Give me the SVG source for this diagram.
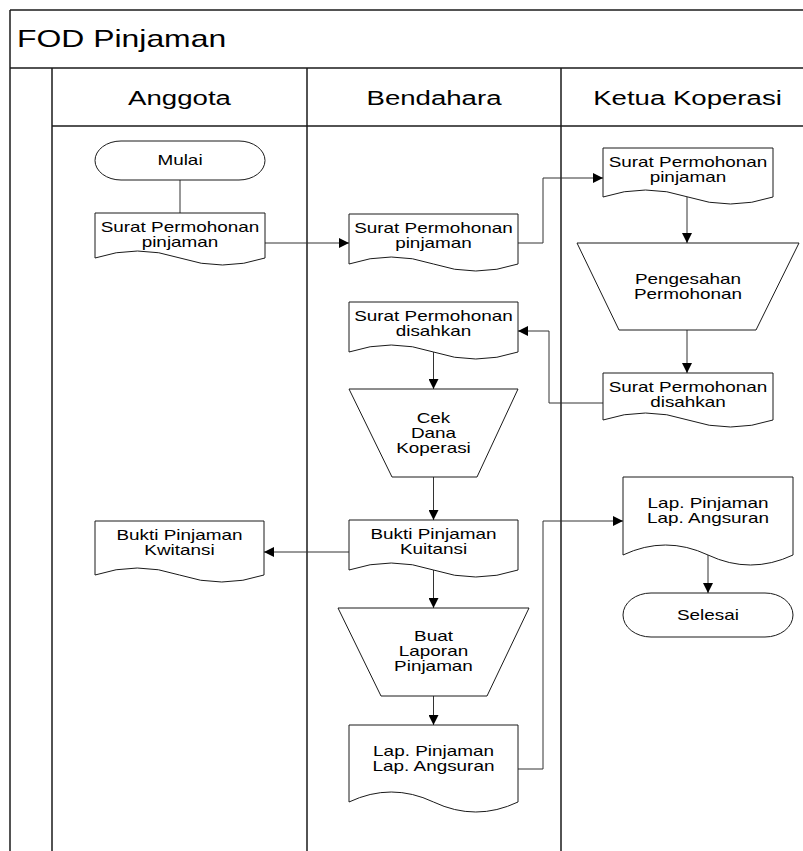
<svg xmlns="http://www.w3.org/2000/svg" width="803" height="851" viewBox="0 0 803 851">
  <defs>
    <marker id="arrow" viewBox="0 0 10 10" refX="10" refY="5" markerWidth="12" markerHeight="10" markerUnits="userSpaceOnUse" orient="auto">
      <path d="M0,0 L10,5 L0,10 Z" fill="#000"/>
    </marker>
    <style>
      .frame { stroke: #1a1a1a; stroke-width: 1.5; fill: none; }
      .shape { fill: #fff; stroke: #1a1a1a; stroke-width: 1; }
      .conn { fill: none; stroke: #333; stroke-width: 1; }
      .arr { marker-end: url(#arrow); }
      text { font-family: "Liberation Sans", Arial, sans-serif; fill: #000; }
      .title { font-size: 24px; }
      .lane { font-size: 20px; text-anchor: middle; }
      .lbl { font-size: 14px; text-anchor: middle; }
    </style>
  </defs>

  <rect width="803" height="851" fill="#fff"/>

  <!-- swimlane frame -->
  <g id="frame">
    <line class="frame" x1="10" y1="10" x2="803" y2="10"/>
    <line class="frame" x1="10" y1="10" x2="10" y2="851"/>
    <line class="frame" x1="10" y1="68" x2="803" y2="68"/>
    <line class="frame" x1="52" y1="126" x2="803" y2="126"/>
    <line class="frame" x1="52" y1="68" x2="52" y2="851"/>
    <line class="frame" x1="307" y1="68" x2="307" y2="851"/>
    <line class="frame" x1="561" y1="68" x2="561" y2="851"/>
    <text class="title" transform="translate(17 0) scale(1.33 1)" x="0" y="47">FOD Pinjaman</text>
    <text class="lane" transform="translate(179.5 0) scale(1.38 1)" x="0" y="105">Anggota</text>
    <text class="lane" transform="translate(434 0) scale(1.38 1)" x="0" y="105">Bendahara</text>
    <text class="lane" transform="translate(687.5 0) scale(1.38 1)" x="0" y="105">Ketua Koperasi</text>
  </g>

  <!-- connectors -->
  <g id="connectors">
    <path class="conn" d="M180,180 V213"/>
    <path class="conn arr" d="M265,243 H349"/>
    <path class="conn arr" d="M518,243 H543 V178 H603"/>
    <path class="conn arr" d="M687,197 V243"/>
    <path class="conn arr" d="M687,330 V373"/>
    <path class="conn arr" d="M603,403 H549 V331 H518"/>
    <path class="conn arr" d="M433.5,352 V389"/>
    <path class="conn arr" d="M433.5,477 V520"/>
    <path class="conn arr" d="M349,552 H264"/>
    <path class="conn arr" d="M433.5,570 V608"/>
    <path class="conn arr" d="M433.5,696 V725"/>
    <path class="conn arr" d="M518,769 H543 V521 H623"/>
    <path class="conn arr" d="M708,555 V593"/>
  </g>

  <!-- Anggota lane -->
  <g id="mulai">
    <rect class="shape" x="95" y="141" width="170" height="39" rx="26" ry="19.5"/>
    <text class="lbl" transform="translate(180 0) scale(1.35 1)" x="0" y="165.5">Mulai</text>
  </g>
  <g id="anggota-surat">
    <path class="shape" d="M95,213 H265 V258 Q222.5,272 180,258 T95,258 Z"/>
    <text class="lbl" transform="translate(180 0) scale(1.35 1)"><tspan x="0" y="232">Surat Permohonan</tspan><tspan x="0" y="247">pinjaman</tspan></text>
  </g>
  <g id="anggota-bukti">
    <path class="shape" d="M95,521 H264 V575 Q221.75,589 179.5,575 T95,575 Z"/>
    <text class="lbl" transform="translate(179.5 0) scale(1.35 1)"><tspan x="0" y="540">Bukti Pinjaman</tspan><tspan x="0" y="555">Kwitansi</tspan></text>
  </g>

  <!-- Bendahara lane -->
  <g id="bendahara-surat">
    <path class="shape" d="M349,214 H518 V264 Q475.75,278 433.5,264 T349,264 Z"/>
    <text class="lbl" transform="translate(433.5 0) scale(1.35 1)"><tspan x="0" y="233">Surat Permohonan</tspan><tspan x="0" y="248">pinjaman</tspan></text>
  </g>
  <g id="bendahara-disahkan">
    <path class="shape" d="M349,302 H518 V352 Q475.75,366 433.5,352 T349,352 Z"/>
    <text class="lbl" transform="translate(433.5 0) scale(1.35 1)"><tspan x="0" y="321">Surat Permohonan</tspan><tspan x="0" y="336">disahkan</tspan></text>
  </g>
  <g id="cek-dana">
    <path class="shape" d="M349,389 H518 L477,477 H392 Z"/>
    <text class="lbl" transform="translate(433.5 0) scale(1.35 1)"><tspan x="0" y="423">Cek</tspan><tspan x="0" y="438">Dana</tspan><tspan x="0" y="453">Koperasi</tspan></text>
  </g>
  <g id="bendahara-bukti">
    <path class="shape" d="M349,520 H518 V570 Q475.75,584 433.5,570 T349,570 Z"/>
    <text class="lbl" transform="translate(433.5 0) scale(1.35 1)"><tspan x="0" y="539">Bukti Pinjaman</tspan><tspan x="0" y="554">Kuitansi</tspan></text>
  </g>
  <g id="buat-laporan">
    <path class="shape" d="M338,608 H529 L487,696 H381 Z"/>
    <text class="lbl" transform="translate(433.5 0) scale(1.35 1)"><tspan x="0" y="641">Buat</tspan><tspan x="0" y="656">Laporan</tspan><tspan x="0" y="671">Pinjaman</tspan></text>
  </g>
  <g id="bendahara-laporan">
    <path class="shape" d="M349,725 H518 V802 Q475.75,822 433.5,802 T349,802 Z"/>
    <text class="lbl" transform="translate(433.5 0) scale(1.35 1)"><tspan x="0" y="756">Lap. Pinjaman</tspan><tspan x="0" y="771">Lap. Angsuran</tspan></text>
  </g>

  <!-- Ketua Koperasi lane -->
  <g id="ketua-surat">
    <path class="shape" d="M603,148 H773 V197 Q730.5,211 688,197 T603,197 Z"/>
    <text class="lbl" transform="translate(688 0) scale(1.35 1)"><tspan x="0" y="167">Surat Permohonan</tspan><tspan x="0" y="182">pinjaman</tspan></text>
  </g>
  <g id="pengesahan">
    <path class="shape" d="M577,243 H799 L756,330 H619 Z"/>
    <text class="lbl" transform="translate(688 0) scale(1.35 1)"><tspan x="0" y="284">Pengesahan</tspan><tspan x="0" y="299">Permohonan</tspan></text>
  </g>
  <g id="ketua-disahkan">
    <path class="shape" d="M603,373 H773 V420 Q730.5,434 688,420 T603,420 Z"/>
    <text class="lbl" transform="translate(688 0) scale(1.35 1)"><tspan x="0" y="392">Surat Permohonan</tspan><tspan x="0" y="407">disahkan</tspan></text>
  </g>
  <g id="ketua-laporan">
    <path class="shape" d="M623,477 H793 V555 Q750.5,575 708,555 T623,555 Z"/>
    <text class="lbl" transform="translate(708 0) scale(1.35 1)"><tspan x="0" y="508">Lap. Pinjaman</tspan><tspan x="0" y="523">Lap. Angsuran</tspan></text>
  </g>
  <g id="selesai">
    <rect class="shape" x="623" y="593" width="170" height="44" rx="28" ry="22"/>
    <text class="lbl" transform="translate(708 0) scale(1.35 1)" x="0" y="620">Selesai</text>
  </g>
</svg>
